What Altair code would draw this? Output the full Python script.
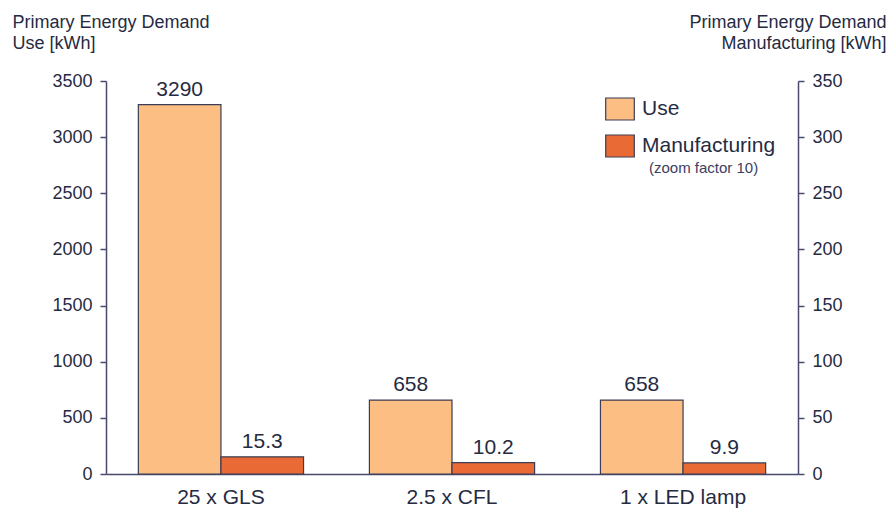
import altair as alt
import pandas as pd

categories = ["25 x GLS", "2.5 x CFL", "1 x LED lamp"]
use_values = [3290, 658, 658]
manufacturing_values = [15.3, 10.2, 9.9]
use_labels = ["3290", "658", "658"]
manufacturing_labels = ["15.3", "10.2", "9.9"]
series = ["Use", "Manufacturing"]
colors = ["#FDBE84", "#EA6A35"]

FONT = "Liberation Sans"
TXT = "#262b42"
AX = "#4a4a6e"

use_df = pd.DataFrame({"cat": categories, "val": use_values, "lab": use_labels, "series": "Use"})
man_df = pd.DataFrame({"cat": categories, "val": manufacturing_values, "lab": manufacturing_labels, "series": "Manufacturing"})

xenc = alt.X("cat:N", sort=categories, title=None,
             scale=alt.Scale(paddingInner=0.285, paddingOuter=0.14),
             axis=alt.Axis(orient="bottom", labelAngle=0, ticks=False, grid=False, labelFontSize=21, labelPadding=12,
                           labelColor=TXT, domainColor=AX, domainWidth=1.5, labelFont=FONT))
xoff = alt.XOffset("series:N", sort=series,
                   scale=alt.Scale(domain=series, paddingInner=0, paddingOuter=0))
color = alt.Color("series:N", sort=series,
                  scale=alt.Scale(domain=series, range=colors),
                  legend=alt.Legend(title=None, orient="none", legendX=502, legendY=16,
                                    symbolType="M-1.3,-1L1.3,-1L1.3,1L-1.3,1Z", symbolSize=484,
                                    symbolStrokeColor="#3a3d55", symbolStrokeWidth=1.2,
                                    labelFontSize=21, labelColor=TXT, labelFont=FONT,
                                    labelOffset=10, rowPadding=9))

y_use = alt.Y("val:Q", title=["Primary Energy Demand", "Use [kWh]"],
              scale=alt.Scale(domain=[0, 3500], nice=False),
              axis=alt.Axis(orient="left", values=list(range(0, 3501, 500)), format="d", grid=False,
                            tickSize=6, tickColor=AX, domainColor=AX, domainWidth=1.5, tickWidth=1.5,
                            labelFontSize=18, labelColor=TXT, labelFont=FONT, labelPadding=8,
                            titleAngle=0, titleAlign="left", titleBaseline="top",
                            titleX=-94, titleY=-68, titleFontSize=18, titleFontWeight="normal",
                            titleColor=TXT, titleFont=FONT, titleLineHeight=21))
y_man = alt.Y("val:Q", title=["Primary Energy Demand", "Manufacturing [kWh]"],
              scale=alt.Scale(domain=[0, 350], nice=False),
              axis=alt.Axis(orient="right", values=list(range(0, 351, 50)), format="d", grid=False,
                            tickSize=6, tickColor=AX, domainColor=AX, domainWidth=1.5, tickWidth=1.5,
                            labelFontSize=18, labelColor=TXT, labelFont=FONT, labelPadding=8,
                            titleAngle=0, titleAlign="right", titleBaseline="top",
                            titleX=88, titleY=-68, titleFontSize=18, titleFontWeight="normal",
                            titleColor=TXT, titleFont=FONT, titleLineHeight=21))

bar_use = alt.Chart(use_df).mark_bar(stroke="#3a3d55", strokeWidth=1.2).encode(
    x=xenc, xOffset=xoff, y=y_use, color=color)
txt_use = alt.Chart(use_df).mark_text(dy=-15, fontSize=21, color=TXT, font=FONT).encode(
    x=xenc, xOffset=xoff, y=y_use, text="lab:N")
bar_man = alt.Chart(man_df).mark_bar(stroke="#3a3d55", strokeWidth=1.2).encode(
    x=xenc, xOffset=xoff, y=y_man, color=color)
txt_man = alt.Chart(man_df).mark_text(dy=-15, fontSize=21, color=TXT, font=FONT).encode(
    x=xenc, xOffset=xoff, y=y_man, text="lab:N")

note = alt.Chart(pd.DataFrame({"t": ["(zoom factor 10)"]})).mark_text(
    align="left", baseline="middle", fontSize=15, color="#3c4060", font=FONT
).encode(x=alt.value(543), y=alt.value(87), text="t:N")

chart = alt.layer(
    alt.layer(bar_use, txt_use, note),
    alt.layer(bar_man, txt_man),
).resolve_scale(y="independent").properties(
    width=692, height=393,
    background="white",
    autosize=alt.AutoSizeParams(type="none"),
    padding={"left": 106, "top": 81, "right": 92, "bottom": 38},
).configure_view(strokeWidth=0).configure_axis(grid=False)

chart.save("out.html", embed_options={"renderer": "svg", "actions": False})
